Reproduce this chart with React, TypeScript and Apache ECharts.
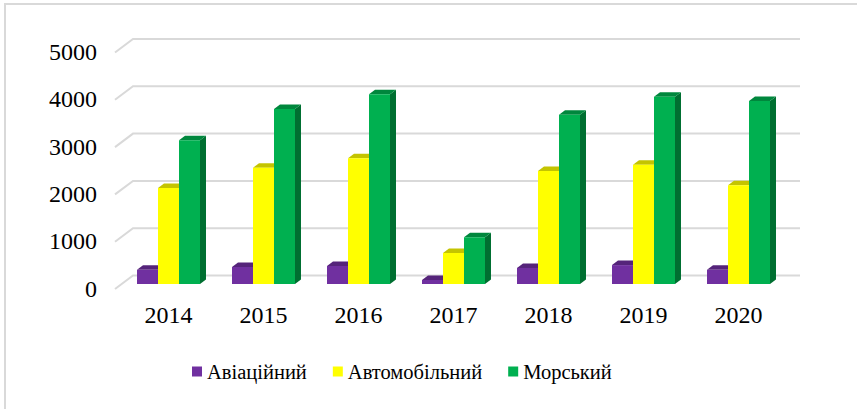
import React, { useEffect, useRef } from "react";
import * as echarts from "echarts";

const categories = ["2014", "2015", "2016", "2017", "2018", "2019", "2020"];
const seriesNames = ["Авіаційний", "Автомобільний", "Морський"];
const aviation = [300, 360, 380, 85, 340, 400, 300];
const auto = [2030, 2460, 2660, 655, 2390, 2520, 2090];
const sea = [3040, 3700, 4010, 990, 3580, 3960, 3870];
const yTicks = [0, 1000, 2000, 3000, 4000, 5000];

const frontColors = ["#7030A0", "#FFFF00", "#00B050"];
const topColors = ["#55247A", "#C4C400", "#00873D"];
const sideColors = ["#4A1F6B", "#A8A800", "#006F31"];

const FONT = "Liberation Serif";

export default function App() {
  const ref = useRef<HTMLDivElement>(null);
  useEffect(() => {
    document.body.style.margin = "0";
    const chart = echarts.init(ref.current!, null, { renderer: "svg" });
    const dx = 6;
    const dy = -4.5;
    const barFrac = 21 / 95;

    const makeBarSeries = (idx: number, values: number[]) => ({
      type: "custom",
      name: seriesNames[idx],
      itemStyle: { color: frontColors[idx] },
      z: 10 + idx,
      data: values.map((v, i) => [i, v]),
      renderItem: (params: any, api: any) => {
        const ci = api.value(0);
        const v = api.value(1);
        const top = api.coord([ci, v]);
        const base = api.coord([ci, 0]);
        const band = api.size([1, 0])[0];
        const w = band * barFrac;
        const x = top[0] + (idx - 1.5) * w;
        const yT = top[1];
        const yB = base[1];
        return {
          type: "group",
          children: [
            {
              type: "polygon",
              shape: {
                points: [
                  [x + w, yT],
                  [x + w + dx, yT + dy],
                  [x + w + dx, yB + dy],
                  [x + w, yB],
                ],
              },
              style: { fill: sideColors[idx] },
            },
            {
              type: "polygon",
              shape: {
                points: [
                  [x, yT],
                  [x + w, yT],
                  [x + w + dx, yT + dy],
                  [x + dx, yT + dy],
                ],
              },
              style: { fill: topColors[idx] },
            },
            {
              type: "rect",
              shape: { x, y: yT, width: w, height: yB - yT },
              style: { fill: frontColors[idx] },
            },
          ],
        };
      },
    });

    const option: any = {
      animation: false,
      graphic: [
        {
          type: "rect",
          shape: { x: 5, y: 4, width: 900, height: 500 },
          style: { fill: "none", stroke: "#d9d9d9", lineWidth: 2 },
          z: 0,
        },
      ],
      grid: { left: 121, right: 71, top: 47.5, bottom: 125 },
      legend: {
        data: seriesNames,
        left: 187,
        top: 356,
        icon: "rect",
        itemWidth: 10,
        itemHeight: 10,
        itemGap: 26,
        textStyle: { fontFamily: FONT, fontSize: 20.5, color: "#000" },
      },
      xAxis: {
        type: "category",
        data: categories,
        axisLine: { show: false },
        axisTick: { show: false },
        axisLabel: { fontFamily: FONT, fontSize: 24, color: "#000", margin: 19 },
      },
      yAxis: {
        type: "value",
        min: 0,
        max: 5000,
        interval: 1000,
        splitLine: { show: false },
        axisLine: { show: false },
        axisTick: { show: false },
        axisLabel: {
          fontFamily: FONT,
          fontSize: 24,
          color: "#000",
          margin: 24,
          verticalAlign: "top",
          lineHeight: 9,
          formatter: (v: number) => String(v),
        },
      },
      series: [
        {
          type: "custom",
          name: "grid",
          z: 1,
          silent: true,
          data: yTicks.map((t) => [0, t]),
          renderItem: (params: any, api: any) => {
            const y = api.coord([0, api.value(1)])[1];
            const cs = params.coordSys;
            return {
              type: "polyline",
              shape: {
                points: [
                  [cs.x - 6, y + 5],
                  [cs.x + 12, y - 8.5],
                  [cs.x + cs.width + 14, y - 8.5],
                ],
              },
              style: { stroke: "#d9d9d9", lineWidth: 2, fill: "none" },
            };
          },
        },
        makeBarSeries(0, aviation),
        makeBarSeries(1, auto),
        makeBarSeries(2, sea),
      ],
    };
    chart.setOption(option);
    return () => chart.dispose();
  }, []);
  return <div ref={ref} style={{ width: 857, height: 409 }} />;
}
